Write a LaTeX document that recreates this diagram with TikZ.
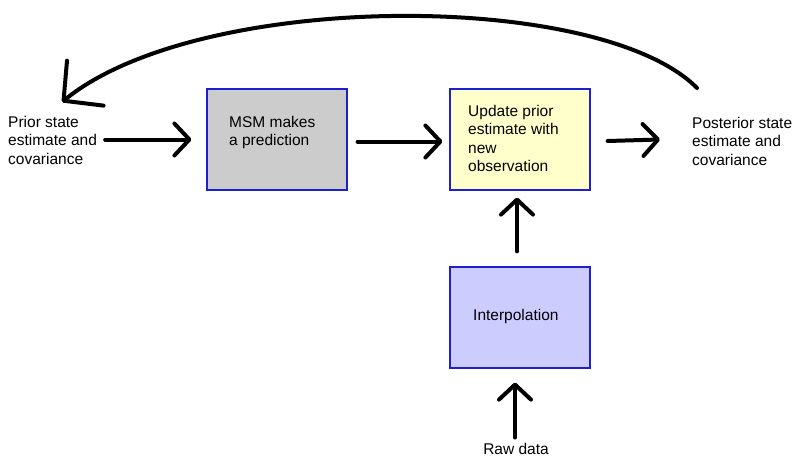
\documentclass[tikz,border=0pt]{standalone}
\usepackage{fontspec}
\setmainfont{Liberation Sans}
\usetikzlibrary{arrows.meta}
\definecolor{boxedge}{RGB}{30,30,210}
\definecolor{predfill}{RGB}{204,204,204}
\definecolor{updfill}{RGB}{255,255,204}
\definecolor{interpfill}{RGB}{204,204,255}
\begin{document}
\begin{tikzpicture}[x=1pt,y=-1pt,
  box/.style={draw=boxedge, line width=1.2pt, minimum width=140pt,
              minimum height=101pt, inner sep=0pt},
  lbl/.style={font=\fontsize{15.5}{18.5}\selectfont, align=left, inner sep=0pt},
  arr/.style={line width=4pt, line cap=round,
              -{Straight Barb[length=15pt,width=32pt,round]}},
  bigarr/.style={line width=4pt, line cap=round,
              -{Straight Barb[length=28pt,width=58pt,round]}},
]
\useasboundingbox (0,0) rectangle (795,458);

% process boxes
\node[box, fill=predfill]   (msm)    at (277,139.5) {};
\node[box, fill=updfill]    (upd)    at (520,139.5) {};
\node[box, fill=interpfill] (interp) at (520,317.5) {};

% box texts
\node[lbl, anchor=north west] (msmtxt) at (229,116) {MSM makes\\a prediction};
\node[lbl, anchor=north west] (updtxt) at (468,105) {Update prior\\estimate with\\new\\observation};
\node[lbl, anchor=north west] (interptxt) at (473,308.7) {Interpolation};

% free labels
\node[lbl, anchor=north west] (prior) at (8,116) {Prior state\\estimate and\\covariance};
\node[lbl, anchor=north west] (post)  at (692,117) {Posterior state\\estimate and\\covariance};
\node[lbl, anchor=north] (raw) at (516,443.5) {Raw data};

% flow arrows
\draw[arr] ([xshift=8pt]prior.east |- msm.west) -- ([xshift=-15pt]msm.west);
\draw[arr] ([xshift=10pt,yshift=-2pt]msm.east) -- ([xshift=-7pt,yshift=-2pt]upd.west);
\draw[arr] ([xshift=17pt,yshift=-1.5pt]upd.east) -- ([xshift=-32pt]post.west |- upd.east);
\draw[arr] ([xshift=-3pt,yshift=15pt]interp.north) -- ([xshift=-3pt,yshift=-7pt]upd.south);
\draw[arr] ([xshift=-1pt,yshift=6pt]raw.north) -- ([xshift=-5pt,yshift=-14pt]interp.south);

% feedback loop from posterior back to prior
\coordinate (loopstart) at (697,88);
\coordinate (looptip) at (62,102);
\draw[bigarr] (loopstart) .. controls (600,-10) and (200,-10) .. (looptip);
\end{tikzpicture}
\end{document}
